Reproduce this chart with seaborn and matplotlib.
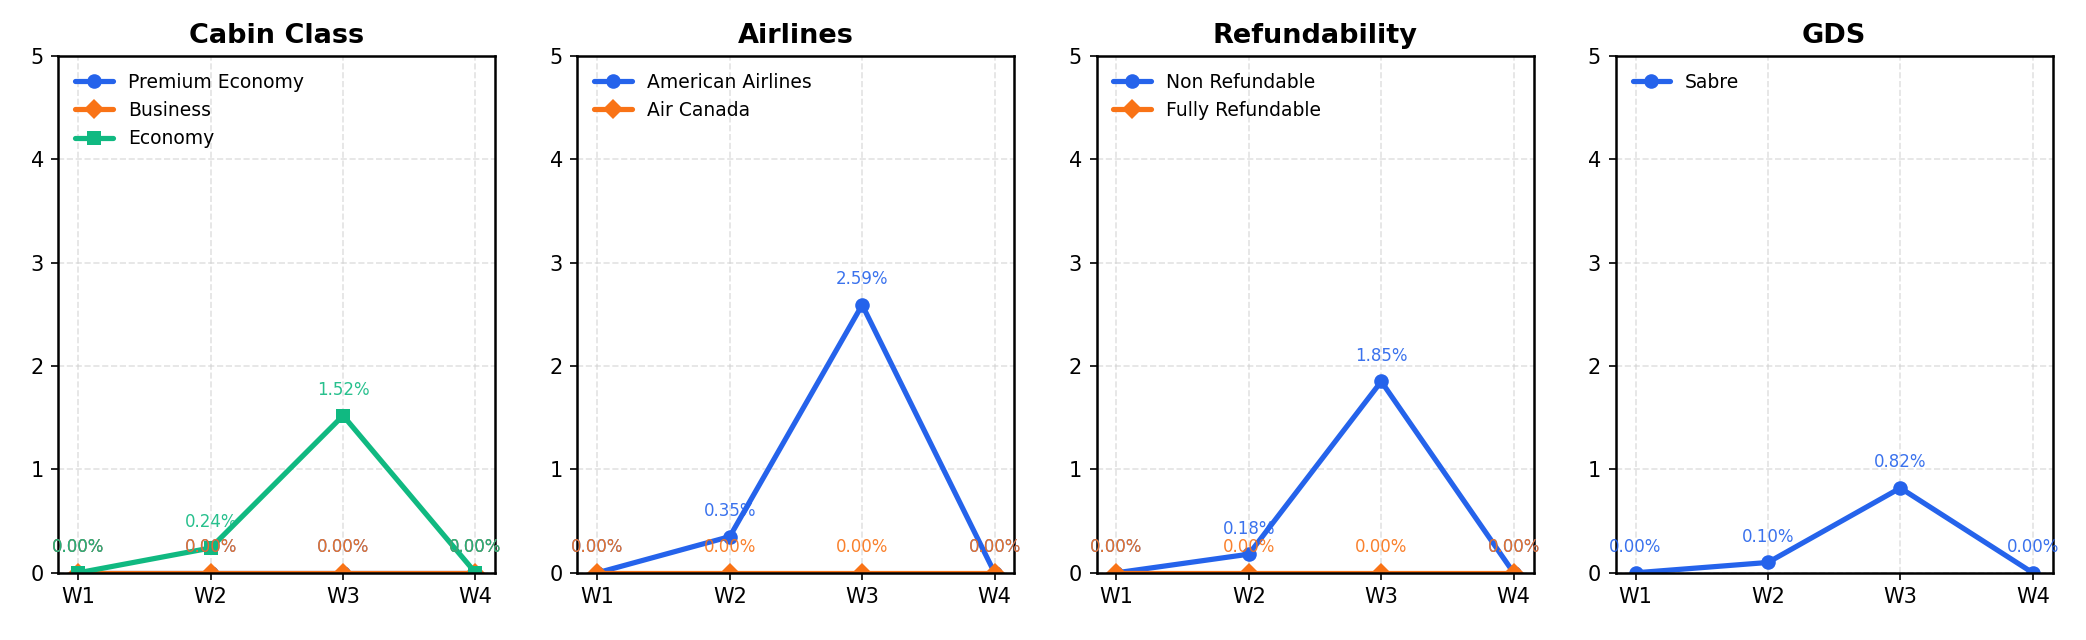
import numpy as np
import pandas as pd
import matplotlib
matplotlib.use('Agg')
import matplotlib.pyplot as plt
import seaborn as sns

# Weekly share (%) per dimension
weeks = ['W1', 'W2', 'W3', 'W4']

cabin_premium_economy = [0.00, 0.00, 0.00, 0.00]
cabin_business = [0.00, 0.00, 0.00, 0.00]
cabin_economy = [0.00, 0.24, 1.52, 0.00]

airline_american = [0.00, 0.35, 2.59, 0.00]
airline_air_canada = [0.00, 0.00, 0.00, 0.00]

refund_non = [0.00, 0.18, 1.85, 0.00]
refund_fully = [0.00, 0.00, 0.00, 0.00]

gds_sabre = [0.00, 0.10, 0.82, 0.00]

BLUE = '#2563EB'
ORANGE = '#F97316'
GREEN = '#10B981'

panels = [
    ('Cabin Class', [('Premium Economy', cabin_premium_economy, BLUE, 'o'),
                     ('Business', cabin_business, ORANGE, 'D'),
                     ('Economy', cabin_economy, GREEN, 's')]),
    ('Airlines', [('American Airlines', airline_american, BLUE, 'o'),
                  ('Air Canada', airline_air_canada, ORANGE, 'D')]),
    ('Refundability', [('Non Refundable', refund_non, BLUE, 'o'),
                       ('Fully Refundable', refund_fully, ORANGE, 'D')]),
    ('GDS', [('Sabre', gds_sabre, BLUE, 'o')]),
]

sns.set_style('ticks')
plt.rcParams['font.family'] = ['DejaVu Sans']
plt.rcParams['text.color'] = 'black'
plt.rcParams['xtick.color'] = 'black'
plt.rcParams['ytick.color'] = 'black'
plt.rcParams['axes.labelcolor'] = 'black'

fig, axes = plt.subplots(1, 4, figsize=(2086 / 150, 640 / 150), dpi=150)
fig.subplots_adjust(left=0.028, right=0.984, top=0.913, bottom=0.105, wspace=0.188)

for ax, (title, series) in zip(axes, panels):
    for name, vals, color, mk in series:
        df = pd.DataFrame({'week': weeks, 'value': vals})
        sns.lineplot(data=df, x='week', y='value', ax=ax, color=color, marker=mk,
                     markersize=7, markeredgewidth=0, linewidth=2.5, label=name)
        for i, v in enumerate(vals):
            ax.annotate(f'{v:.2f}%', (i, v), xytext=(0, 8), textcoords='offset points',
                        ha='center', va='bottom', fontsize=8, color=color, alpha=0.9)
    ax.set_title(title, fontsize=13, fontweight='bold', color='black')
    ax.set_ylim(0, 5)
    ax.set_xlabel('')
    ax.set_ylabel('')
    ax.grid(True, linestyle='--', color='#d0d0d0', alpha=0.6)
    ax.tick_params(labelsize=10, colors='black')
    for sp in ax.spines.values():
        sp.set_color('black')
        sp.set_linewidth(1.2)
    ax.legend(loc='upper left', frameon=False, fontsize=9)

plt.savefig('out.png', dpi=150)
